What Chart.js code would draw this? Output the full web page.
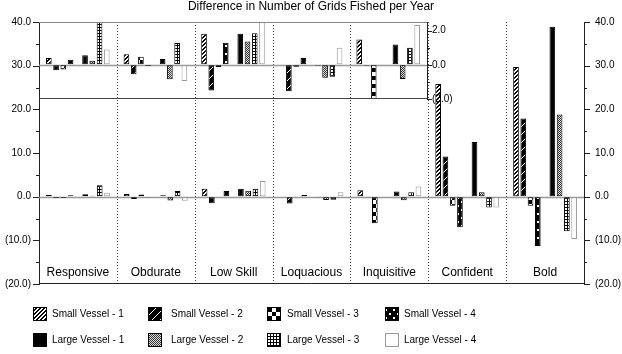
<!DOCTYPE html>
<html>
<head>
<meta charset="utf-8">
<script src="https://cdn.jsdelivr.net/npm/chart.js@4/dist/chart.umd.min.js"></script>
<style>
    html, body { margin: 0; padding: 0; background: #fff; }
    #wrap { position: relative; width: 622px; height: 354px; }
    #main-chart, #inset-chart { position: absolute; left: 0; top: 0; }
</style>
</head>
<body>
<div id="wrap">
    <canvas id="main-chart" width="622" height="354"></canvas>
    <canvas id="inset-chart" width="480" height="110"></canvas>
</div>
<script>
// --- Data ---
const categories = ['Responsive', 'Obdurate', 'Low Skill', 'Loquacious', 'Inquisitive', 'Confident', 'Bold'];
const insetCount = 5; // first five groups are repeated in the zoomed inset

const smallVessel1 = [0.40, 0.62, 1.82, 0.00, 1.48, 25.8, 29.7];
const smallVessel2 = [-0.32, -0.55, -1.51, -1.55, -0.05, 9.2, 17.9];
const smallVessel3 = [-0.28, 0.47, -0.13, -0.12, -6.1, -2.1, -2.1];
const smallVessel4 = [0.30, -0.07, 1.29, 0.40, 0.00, -7.0, -11.3];
const largeVessel1 = [0.55, 0.34, 1.82, -0.05, 1.19, 12.5, 38.9];
const largeVessel2 = [0.23, -0.85, 1.36, -0.76, -0.83, 1.0, 18.8];
const largeVessel3 = [2.6, 1.27, 1.84, -0.70, 1.00, -2.5, -7.9];
const largeVessel4 = [0.90, -0.95, 3.6, 1.00, 2.33, -2.5, -9.7];

const seriesLabels = ['Small Vessel - 1', 'Small Vessel - 2', 'Small Vessel - 3', 'Small Vessel - 4',
                      'Large Vessel - 1', 'Large Vessel - 2', 'Large Vessel - 3', 'Large Vessel - 4'];
const seriesValues = [smallVessel1, smallVessel2, smallVessel3, smallVessel4,
                      largeVessel1, largeVessel2, largeVessel3, largeVessel4];

const mainMin = -20, mainMax = 40;
const insetMin = -2, insetMax = 2.5;
const chartTitle = 'Difference in Number of Grids Fished per Year';

const FONT = '"Liberation Sans", Arial, sans-serif';
Chart.defaults.font.family = FONT;

// --- Fill patterns ---
function makePattern(w, h, draw) {
    const c = document.createElement('canvas');
    c.width = w; c.height = h;
    const g = c.getContext('2d');
    draw(g);
    return g.createPattern(c, 'repeat');
}

const fills = [
    makePattern(4, 4, g => { // dense hatch
        g.fillStyle = '#fff'; g.fillRect(0, 0, 4, 4);
        g.fillStyle = '#000';
        for (let i = 0; i < 4; i++) { g.fillRect(i, 3 - i, 1, 1); g.fillRect((i + 1) % 4, 3 - i, 1, 1); }
    }),
    makePattern(8, 8, g => { // black with thin white slashes
        g.fillStyle = '#000'; g.fillRect(0, 0, 8, 8);
        g.fillStyle = '#fff';
        for (let i = 0; i < 8; i++) g.fillRect(i, 7 - i, 1, 1);
    }),
    makePattern(8, 8, g => { // checkerboard
        g.fillStyle = '#fff'; g.fillRect(0, 0, 8, 8);
        g.fillStyle = '#000'; g.fillRect(0, 0, 4, 4); g.fillRect(4, 4, 4, 4);
    }),
    makePattern(8, 8, g => { // black with white dotted diagonals
        g.fillStyle = '#000'; g.fillRect(0, 0, 8, 8);
        g.fillStyle = '#fff'; g.fillRect(1, 5, 2, 2); g.fillRect(5, 1, 2, 2);
    }),
    '#000',
    makePattern(2, 2, g => { // fine gray stipple
        g.fillStyle = '#ddd'; g.fillRect(0, 0, 2, 2);
        g.fillStyle = '#333'; g.fillRect(0, 0, 1, 1); g.fillRect(1, 1, 1, 1);
    }),
    makePattern(3, 3, g => { // grid
        g.fillStyle = '#fff'; g.fillRect(0, 0, 3, 3);
        g.fillStyle = '#000'; g.fillRect(0, 0, 3, 1); g.fillRect(0, 0, 1, 3);
    }),
    '#fff'
];
const borders = ['#000', '#000', '#000', '#000', '#000', '#000', '#000', '#999'];

function buildDatasets(count) {
    const ds = [];
    seriesValues.forEach((vals, i) => {
        if (i === 4) {
            // empty slot between the small and the large vessels
            ds.push({ label: '', data: new Array(count).fill(null), backgroundColor: 'transparent',
                      borderWidth: 0, categoryPercentage: 0.84, barPercentage: 0.78 });
        }
        ds.push({
            label: seriesLabels[i],
            data: vals.slice(0, count),
            backgroundColor: fills[i],
            borderColor: borders[i],
            borderWidth: 1,
            borderSkipped: false,
            categoryPercentage: 0.84,
            barPercentage: 0.78,
            clip: 0
        });
    });
    return ds;
}

const fmt = v => v < 0 ? `(${Math.abs(v).toFixed(1)})` : v.toFixed(1);

function line(ctx, x1, y1, x2, y2, color, width, dash) {
    ctx.save();
    ctx.strokeStyle = color;
    ctx.lineWidth = width || 1;
    ctx.setLineDash(dash || []);
    ctx.beginPath();
    ctx.moveTo(x1, y1);
    ctx.lineTo(x2, y2);
    ctx.stroke();
    ctx.restore();
}

// --- Main chart decorations ---
const mainDecor = {
    id: 'mainDecor',
    beforeDatasetsDraw(chart) {
        const { ctx, chartArea: a, scales: { x, y } } = chart;
        const y0 = Math.round(y.getPixelForValue(0)) + 0.5;
        line(ctx, a.left, y0, a.right, y0, '#999', 1.5);
        for (let i = 1; i < categories.length; i++) {
            const px = Math.round((x.getPixelForValue(i - 1) + x.getPixelForValue(i)) / 2) + 0.5;
            line(ctx, px, a.top, px, a.bottom, '#444', 1, [1, 2]);
        }
    },
    afterDraw(chart) {
        const { ctx, chartArea: a, scales: { x, y } } = chart;
        // tick marks both sides
        for (let v = mainMin; v <= mainMax; v += 5) {
            const py = Math.round(y.getPixelForValue(v)) + 0.5;
            const len = v % 10 === 0 ? 6 : 3;
            line(ctx, a.left - len, py, a.left, py, '#222');
            line(ctx, a.right, py, a.right + len, py, '#222');
        }
        line(ctx, a.left, a.bottom - 0.5, a.right, a.bottom - 0.5, '#222');

        ctx.save();
        ctx.fillStyle = '#000';
        ctx.textAlign = 'center';
        ctx.textBaseline = 'middle';
        ctx.font = `12px ${FONT}`;
        ctx.fillText(chartTitle, chart.width / 2, 7);
        categories.forEach((c, i) => ctx.fillText(c, x.getPixelForValue(i), a.bottom - 11));

        // legend, 4 columns x 2 rows
        const boxX = [33, 148, 267, 385];
        const textX = [52, 171, 287, 404];
        const rowY = [314, 340];
        ctx.textAlign = 'left';
        ctx.font = `10px ${FONT}`;
        seriesLabels.forEach((lbl, i) => {
            const col = i % 4, row = Math.floor(i / 4);
            const bx = boxX[col], by = rowY[row] - 7;
            ctx.fillStyle = fills[i];
            ctx.fillRect(bx, by, 14, 14);
            ctx.strokeStyle = borders[i];
            ctx.lineWidth = 1;
            ctx.strokeRect(bx + 0.5, by + 0.5, 13, 13);
            ctx.fillStyle = '#000';
            ctx.fillText(lbl, textX[col], rowY[row]);
        });
        ctx.restore();
    }
};

new Chart(document.getElementById('main-chart'), {
    type: 'bar',
    data: { labels: categories, datasets: buildDatasets(categories.length) },
    options: {
        responsive: false,
        animation: false,
        devicePixelRatio: 1,
        layout: { padding: { top: 22, bottom: 70, left: 0, right: 0 } },
        plugins: { legend: { display: false }, tooltip: { enabled: false }, title: { display: false } },
        scales: {
            x: { display: false },
            y: {
                position: 'left', min: mainMin, max: mainMax,
                ticks: { stepSize: 10, callback: fmt, color: '#000', font: { size: 10 }, padding: 8 },
                grid: { drawOnChartArea: false, drawTicks: false },
                border: { display: true, color: '#222' },
                afterFit: s => { s.width = 39; }
            },
            y2: {
                position: 'right', min: mainMin, max: mainMax,
                ticks: { stepSize: 10, callback: fmt, color: '#000', font: { size: 10 }, padding: 11 },
                grid: { drawOnChartArea: false, drawTicks: false },
                border: { display: true, color: '#222' },
                afterFit: s => { s.width = 38; }
            }
        }
    },
    plugins: [mainDecor]
});

// --- Inset (zoomed view of the first five groups) ---
const insetDecor = {
    id: 'insetDecor',
    beforeDatasetsDraw(chart) {
        const { ctx, chartArea: a, scales: { y } } = chart;
        const y0 = Math.round(y.getPixelForValue(0)) + 0.5;
        line(ctx, a.left, y0, a.right, y0, '#999', 1.5);
    },
    afterDraw(chart) {
        const { ctx, chartArea: a, scales: { y } } = chart;
        line(ctx, a.left, a.top + 0.5, a.right, a.top + 0.5, '#888');
        line(ctx, a.left, a.bottom - 0.5, a.right, a.bottom - 0.5, '#444');
        for (let v = insetMin; v <= 2; v += 1) {
            const py = Math.round(y.getPixelForValue(v)) + 0.5;
            line(ctx, a.right, py, a.right + (v % 2 === 0 ? 5 : 3), py, '#222');
        }
    }
};

new Chart(document.getElementById('inset-chart'), {
    type: 'bar',
    data: { labels: categories.slice(0, insetCount), datasets: buildDatasets(insetCount) },
    options: {
        responsive: false,
        animation: false,
        devicePixelRatio: 1,
        layout: { padding: { top: 22, bottom: 9, left: 39, right: 0 } },
        plugins: { legend: { display: false }, tooltip: { enabled: false } },
        scales: {
            x: { display: false },
            y: {
                position: 'right', min: insetMin, max: insetMax,
                ticks: { stepSize: 2, includeBounds: false, callback: fmt, color: '#000', font: { size: 10 }, padding: 5 },
                grid: { drawOnChartArea: false, drawTicks: false },
                border: { display: true, color: '#222' },
                afterFit: s => { s.width = 53; }
            }
        }
    },
    plugins: [insetDecor]
});
</script>
</body>
</html>
